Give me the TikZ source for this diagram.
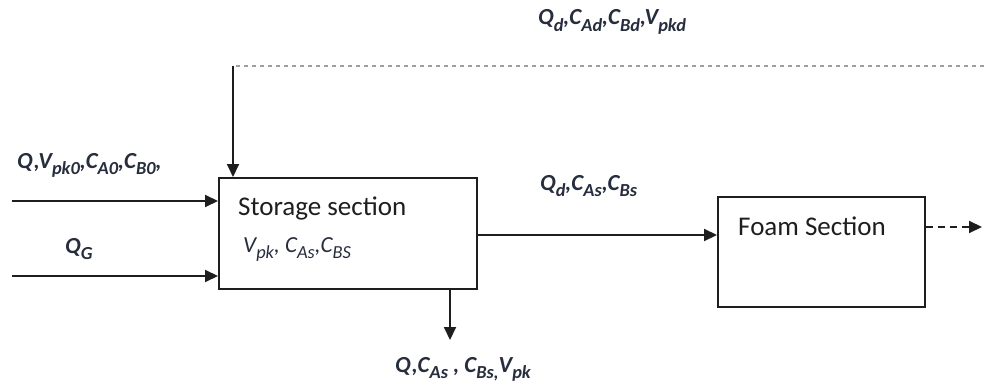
\documentclass[tikz,border=0pt]{standalone}
\usepackage{fontspec}
\setmainfont{Carlito}
\usetikzlibrary{arrows.meta}
% lowered, reduced subscript for the stream labels
\newcommand\sbx[1]{\raisebox{-0.28em}{\scalebox{0.8}{#1}}}
\definecolor{labelink}{HTML}{262D3D}
\definecolor{boxink}{HTML}{1E1E1E}
\tikzset{
  unit/.style={draw=boxink, line width=2pt, fill=white, inner sep=0pt},
  flow/.style={line width=2pt, draw=boxink, -{Triangle[length=13pt,width=12pt]}},
  recycle/.style={line width=2pt, draw=gray!75, dash pattern=on 4pt off 4pt},
  outflow/.style={flow, dash pattern=on 7pt off 5pt},
  streamlabel/.style={anchor=base west, inner sep=0pt, text=labelink,
    font=\fontsize{23}{26}\selectfont\bfseries\itshape},
  unittext/.style={anchor=base west, inner sep=0pt, text=boxink,
    font=\fontsize{27}{30}\selectfont}
}
\begin{document}
\begin{tikzpicture}[x=1pt,y=-1pt]
\useasboundingbox (0,0) rectangle (984,385);

% process units
\node[unit, minimum width=258pt, minimum height=111pt] (store) at (348,233.5) {};
\node[unit, minimum width=207pt, minimum height=110pt] (foam) at (821.5,252) {};

\node[unittext] (storetitle) at (238,215) {Storage section};
\node[unittext, text=labelink, font=\fontsize{23}{26}\selectfont\itshape] (storevars) at (243,252)
  {V\sbx{pk}, C\sbx{As},C\sbx{BS}};
\node[unittext] (foamtitle) at (738,235) {Foam Section};

% feed streams
\coordinate (feedA) at (12,201);
\coordinate (feedB) at (12,276);
\draw[flow] (feedA) -- (feedA -| store.west);
\draw[flow] (feedB) -- (feedB -| store.west);
\node[streamlabel] (feedAlabel) at (17,168) {Q,V\sbx{pk0},C\sbx{A0},C\sbx{B0},};
\node[streamlabel] (feedBlabel) at (65,253) {Q\sbx{G}};

% recycle stream from the right
\coordinate (recEnd) at (984,66);
\coordinate (recCorner) at (233,66);
\draw[recycle] (recEnd) -- (recCorner);
\draw[flow] (recCorner) -- (recCorner |- store.north);
\node[streamlabel] (reclabel) at (538,25) {Q\sbx{d},C\sbx{Ad},C\sbx{Bd},V\sbx{pkd}};

% transfer to the foam section
\coordinate (midLevel) at (0,235);
\draw[flow] (store.east |- midLevel) -- (foam.west |- midLevel);
\node[streamlabel] (midlabel) at (540,190) {Q\sbx{d},C\sbx{As},C\sbx{Bs}};

% bottom draw-off
\coordinate (drawOff) at (450,340);
\draw[flow] (store.south -| drawOff) -- (drawOff);
\node[streamlabel] (drawlabel) at (395,372) {Q,C\sbx{As} , C\sbx{Bs,}V\sbx{pk}};

% foam section product
\coordinate (foamOut) at (982,227);
\draw[outflow] (foam.east |- foamOut) -- (foamOut);
\end{tikzpicture}
\end{document}
